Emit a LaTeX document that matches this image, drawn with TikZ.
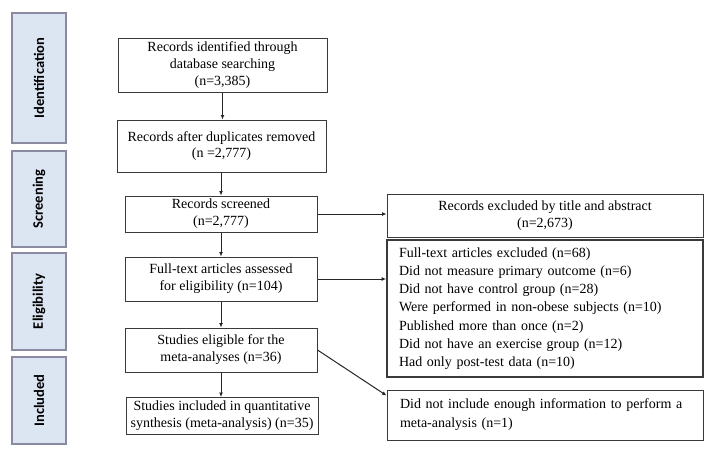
\documentclass[tikz,border=0pt]{standalone}
\usepackage{fontspec}
\setmainfont{Liberation Serif}
\newfontfamily\labfont{Carlito}
\usetikzlibrary{arrows.meta,calc}
\definecolor{phasefill}{HTML}{DCE6F2}
\definecolor{phaseborder}{HTML}{8A8AA0}
\definecolor{boxline}{HTML}{3A3A3A}
\begin{document}
\begin{tikzpicture}[x=1pt,y=-1pt,
  phase/.style={draw=phaseborder, fill=phasefill, line width=1.4pt, rotate=90,
    minimum height=54pt, inner sep=0pt, font=\labfont\bfseries\fontsize{14.5}{16}\selectfont},
  box/.style={draw=boxline, line width=1pt, inner sep=1pt, align=center,
    font=\fontsize{14}{17}\selectfont},
  listbox/.style={draw=boxline, line width=1pt, align=left, text width=#1,
    font=\fontsize{14}{18.2}\selectfont},
  arr/.style={draw=black!85, line width=1pt, -{Latex[length=4.5pt,width=4pt]}}
]
\useasboundingbox (0,0) rectangle (708,452);
\fill[white] (0,0) rectangle (708,452);

% phase labels
\node[phase, minimum width=130pt] (p1) at (39,78) {Identification};
\node[phase, minimum width=96pt] (p2) at (39,199) {Screening};
\node[phase, minimum width=97pt] (p3) at (39,301.5) {Eligibility};
\node[phase, minimum width=87pt] (p4) at (39,400.5) {Included};

% main column
\node[box, minimum width=209pt, minimum height=53pt] (b1) at (222.5,65.5)
  {Records identified through\\database searching\\(n=3,385)};
\node[box, minimum width=209pt, minimum height=52pt, font=\fontsize{14}{15.5}\selectfont] (b2) at (221.5,146)
  {Records after duplicates removed\\(n =2,777)};
\node[box, minimum width=192pt, minimum height=36pt] (b3) at (221,214)
  {Records screened\\(n=2,777)};
\node[box, minimum width=192pt, minimum height=44pt] (b4) at (221,279)
  {Full-text articles assessed\\for eligibility (n=104)};
\node[box, minimum width=192pt, minimum height=44pt] (b5) at (221,350)
  {Studies eligible for the\\meta-analyses (n=36)};
\node[box, minimum width=192pt, minimum height=37pt, inner sep=0.5pt] (b6) at (222,416)
  {Studies included in quantitative\\synthesis (meta-analysis) (n=35)};

% right column
\node[box, minimum width=316pt, minimum height=43pt] (r1) at (545,215.5)
  {Records excluded by title and abstract\\(n=2,673)};
\node[listbox=292pt, inner xsep=12pt, minimum height=137pt, line width=1.8pt] (r2) at (545,308.5)
  {Full-text articles excluded (n=68)\\
   Did not measure primary outcome (n=6)\\
   Did not have control group (n=28)\\
   Were performed in non-obese subjects (n=10)\\
   Published more than once (n=2)\\
   Did not have an exercise group (n=12)\\
   Had only post-test data (n=10)};
\node[listbox=290pt, inner xsep=13pt, minimum height=50pt, font=\fontsize{14}{19}\selectfont] (r3) at (545,415)
  {Did not include enough information to perform a\\meta-analysis (n=1)};

% connectors
\draw[arr] (b1.south) -- (b1.south |- b2.north);
\draw[arr] (b2.south -| b3.north) -- (b3.north);
\draw[arr] (b3.south) -- (b4.north);
\draw[arr] (b4.south) -- (b5.north);
\draw[arr] (b5.south) -- (b5.south |- b6.north);
\draw[arr] (b3.east) -- (b3.east -| r1.west);
\draw[arr] (b4.east) -- (b4.east -| r2.west);
\draw[arr] (b5.east) -- ([yshift=-6pt]r3.north west);
\end{tikzpicture}
\end{document}
